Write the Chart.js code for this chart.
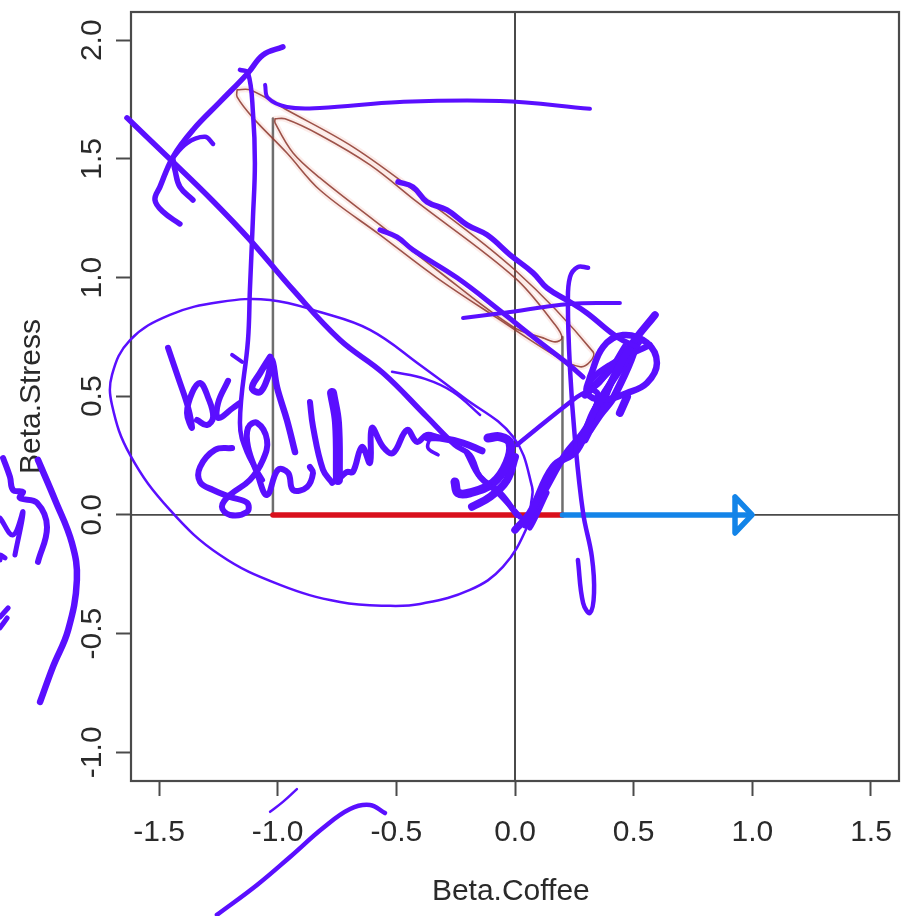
<!DOCTYPE html>
<html><head><meta charset="utf-8">
<style>html,body{margin:0;padding:0;background:#fff}canvas{display:block}</style>
<script src="https://cdn.jsdelivr.net/npm/chart.js@4"></script>
</head><body><canvas id="c" width="909" height="916"></canvas>
<script>
const xTicks=[-1.5,-1,-0.5,0,0.5,1,1.5];
const yTicks=[-1,-0.5,0,0.5,1,1.5,2];
const xRange=[-1.618,1.618];
const yRange=[-1.121,2.119];
const xTitle='Beta.Coffee ', yTitle='Beta.Stress';

const zeroH=[[-1.618,0],[1.618,0]];
const zeroV=[[0,-1.121],[0,2.119]];
const hdiLeft=[[-1.02,0],[-1.02,1.67]];
const hdiRight=[[0.2,0],[0.2,0.75]];
const redSeg=[[-1.02,0],[0.2,0]];
const blueSeg=[[0.2,0],[0.98,0]];
const arrowHead=[[0.927,0.076],[0.999,0],[0.927,-0.076],[0.927,0.076]];
const contourOuter=[[-1.171,1.791],[-1.117,1.791],[-.961,1.706],[-.683,1.551],[-.413,1.357],[0,1.032],[.329,.687],[.316,.645],[.274,.624],[.177,.666],[-.076,.83],[-.329,.999],[-.569,1.18],[-.822,1.369],[-.961,1.525],[-1.104,1.673],[-1.171,1.761],[-1.171,1.791]];
const contourInner=[[-1.011,1.669],[-.969,1.669],[-.822,1.601],[-.611,1.475],[-.413,1.319],[0,.999],[.169,.801],[.198,.746],[.169,.729],[.118,.746],[-.008,.792],[-.329,1.032],[-.569,1.222],[-.822,1.42],[-.935,1.525],[-1.011,1.652],[-1.011,1.669]];

const inkTopLeft=[[-.978,1.972],[-1.062,1.938],[-1.125,1.862],[-1.243,1.74],[-1.357,1.622],[-1.441,1.508],[-1.496,1.382],[-1.517,1.327],[-1.483,1.277],[-1.412,1.226]];
const inkCurlA=[[-1.449,1.496],[-1.382,1.567],[-1.306,1.593],[-1.272,1.563]];
const inkCurlB=[[-1.441,1.496],[-1.433,1.454],[-1.412,1.382],[-1.357,1.327]];
const inkDiagonal=[[-1.635,1.673],[-1.441,1.487],[-1.277,1.327],[-1.117,1.159],[-.935,.948],[-.737,.737],[-.556,.598],[-.371,.413],[-.253,.295],[-.19,.253],[-.147,.16],[-.076,.097],[.021,-.008]];
const inkVertical=[[-1.159,1.875],[-1.125,1.862],[-1.104,1.694],[-1.096,1.483],[-1.104,1.256],[-1.117,.948],[-1.125,.737],[-1.159,.388],[-1.129,.261],[-1.062,.147]];
const inkTopHook=[[-1.053,1.812],[-1.041,1.757],[-.961,1.719],[-.822,1.715],[-.485,1.74],[-.063,1.744],[.316,1.711]];
const inkUpper=[[-.493,1.403],[-.43,1.382],[-.371,1.319],[-.287,1.285],[-.202,1.222],[-.118,1.18],[-.021,1.096],[.076,1.02],[.135,.956],[.232,.897],[.303,.851],[.43,.75],[.514,.708]];
const inkLower=[[-.569,1.201],[-.497,1.171],[-.43,1.117],[-.244,.999],[-.051,.851],[.093,.737],[.219,.64],[.287,.581]];
const inkCross=[[-.219,.83],[-.051,.851],[.232,.889],[.442,.893]];
const inkTall=[[.308,1.041],[.265,1.045],[.232,1.003],[.223,.893],[.232,.611],[.253,.316],[.287,.008],[.324,-.177],[.333,-.329],[.316,-.413],[.287,-.371],[.265,-.19]];
const inkRise=[[.008,.295],[.261,.497],[.358,.556],[.463,.716]];
const inkKnotA=[[0,-.063],[.063,.008],[.16,.202],[.261,.274],[.329,.43],[.388,.527],[.485,.708],[.59,.843]];
const inkKnotB=[[.042,-.042],[.126,.105],[.211,.253],[.295,.358],[.358,.485],[.442,.611],[.527,.737]];
const inkKnotC=[[.241,.253],[.316,.4],[.35,.506],[.308,.548],[.4,.632],[.569,.716]];
const inkLoop=[[.316,.581],[.371,.708],[.455,.758],[.556,.725],[.598,.64],[.556,.556],[.472,.514],[.371,.485],[.303,.514],[.316,.581]];
const inkDrop=[[.442,.43],[.472,.497]];
const inkScribble=[[.295,.506],[.4,.611],[.506,.716],[.421,.506],[.358,.421],[.316,.358]];
const inkScribbleB=[[.295,.316],[.358,.443],[.421,.59],[.485,.675]];
const inkTail=[[-.367,.324],[-.316,.324],[-.219,.303],[-.139,.27]];
const inkTailHook=[[-.324,.253],[-.367,.282],[-.358,.324]];
const inkBlobDown=[[-.202,.261],[-.147,.16],[-.063,.093],[.008,0]];
const inkBlob=[[-.253,.139],[-.24,.093],[-.19,.093],[-.093,.135],[-.034,.219],[-.021,.303],[-.063,.329],[-.114,.324]];
const inkBlobLow=[[-.181,.034],[-.105,.076],[-.034,.147],[0,.244]];
const inkTip=[[0,-.063],[.076,.013],[.063,-.055],[.135,.093]];
const inkEllipse=[[.067,.042],[.051,-.051],[-.051,-.219],[-.19,-.316],[-.4,-.375],[-.527,-.383],[-.737,-.367],[-.99,-.295],[-1.243,-.169],[-1.454,.021],[-1.622,.253],[-1.698,.463],[-1.698,.59],[-1.622,.737],[-1.454,.843],[-1.243,.897],[-1.032,.906],[-.822,.855],[-.611,.78],[-.4,.632],[-.219,.497],[-.008,.329],[.072,.118],[.067,.042]];
const inkEllipseTail=[[-.518,.603],[-.379,.573],[-.261,.518],[-.147,.421]];
const inkLetterB=[[-1.462,.704],[-1.42,.581],[-1.378,.455],[-1.361,.367],[-1.382,.43],[-1.361,.514],[-1.327,.556],[-1.294,.497],[-1.272,.413],[-1.298,.379],[-1.34,.4]];
const inkLetterI=[[-1.209,.565],[-1.251,.472],[-1.251,.409],[-1.188,.451],[-1.159,.472]];
const inkLetterTick=[[-1.192,.674],[-1.15,.645]];
const inkLetterG=[[-1.032,.666],[-1.074,.598],[-1.108,.535],[-1.074,.518],[-1.041,.581],[-1.024,.653],[-1.003,.539],[-.961,.4],[-.927,.265]];
const inkWordShal=[[-1.192,.282],[-1.264,.274],[-1.327,.202],[-1.327,.139],[-1.272,.105],[-1.201,.076],[-1.129,.051],[-1.129,.013],[-1.201,0],[-1.235,.034],[-1.201,.084],[-1.117,.147],[-1.062,.232],[-1.045,.316],[-1.087,.388],[-1.125,.367],[-1.125,.287],[-1.087,.177],[-1.045,.084],[-.999,.19],[-.956,.177],[-.935,.105],[-.876,.118],[-.851,.177],[-.864,.202]];
const inkL1=[[-.864,.476],[-.851,.371],[-.809,.19],[-.77,.135]];
const inkL2=[[-.771,.514],[-.75,.388],[-.746,.147]];
const inkWordRest=[[-.746,.147],[-.708,.181],[-.683,.181],[-.645,.287],[-.611,.219],[-.603,.367],[-.556,.287],[-.514,.261],[-.455,.358],[-.413,.308],[-.371,.337],[-.329,.329]];
const inkLeftArc=[[-2.01,.232],[-1.938,.063],[-1.867,-.118],[-1.846,-.274],[-1.883,-.485],[-1.947,-.64],[-2.001,-.788]];
const inkLeftWave=[[-2.157,.24],[-2.128,.16],[-2.115,.105],[-2.073,.097],[-2.086,.072],[-2.014,.051],[-1.972,-.051],[-2.01,-.198]];
const inkLeftY=[[-2.17,-.013],[-2.115,-.084],[-2.073,.013],[-2.107,-.169]];
const inkLeftDot=[[-2.149,-.181],[-2.17,-.169],[-2.17,-.19]];
const inkLeftDashA=[[-2.136,-.392],[-2.17,-.43]];
const inkLeftDashB=[[-2.14,-.434],[-2.17,-.476]];
const inkBottomThin=[[-.919,-1.155],[-.978,-1.209],[-1.032,-1.251]];
const inkBottomThick=[[-.548,-1.256],[-.611,-1.222],[-.695,-1.239],[-.809,-1.319],[-.948,-1.441],[-1.087,-1.559],[-1.256,-1.685]];

const PURPLE='#5a0fff', DARK='#4a4a4a', GREY='#6e6e6e', RED='#d9101c', BLUE='#1384e8';
const CONTOUR='rgba(140,55,45,0.85)', HALO='rgba(235,120,100,0.14)';

// first entries are painted on top
const layers=[
 [inkTopLeft,PURPLE,5.5],[inkCurlA,PURPLE,4.5],[inkCurlB,PURPLE,5.5],[inkDiagonal,PURPLE,5.5],[inkVertical,PURPLE,4.5],
 [inkTopHook,PURPLE,4],[inkUpper,PURPLE,5.5],[inkLower,PURPLE,5],[inkCross,PURPLE,4],[inkTall,PURPLE,4.5],[inkRise,PURPLE,4.5],
 [inkKnotA,PURPLE,7.5],[inkKnotB,PURPLE,7],[inkKnotC,PURPLE,6],[inkLoop,PURPLE,6.5],[inkDrop,PURPLE,8],[inkScribble,PURPLE,7.5],[inkScribbleB,PURPLE,7],
 [inkTail,PURPLE,7],[inkTailHook,PURPLE,3.5],[inkBlobDown,PURPLE,6],[inkBlob,PURPLE,9],[inkBlobLow,PURPLE,8],[inkTip,PURPLE,5],
 [inkEllipse,PURPLE,2.5],[inkEllipseTail,PURPLE,2.5],
 [inkLetterB,PURPLE,6],[inkLetterI,PURPLE,6],[inkLetterTick,PURPLE,4],[inkLetterG,PURPLE,6.5],[inkWordShal,PURPLE,6],
 [inkL1,PURPLE,6],[inkL2,PURPLE,10],[inkWordRest,PURPLE,6],
 [inkLeftArc,PURPLE,6.5],[inkLeftWave,PURPLE,6],[inkLeftY,PURPLE,5],[inkLeftDot,PURPLE,5],[inkLeftDashA,PURPLE,5],[inkLeftDashB,PURPLE,5],
 [inkBottomThin,PURPLE,2.5],[inkBottomThick,PURPLE,4.5],
 [arrowHead,BLUE,5.5,0],[blueSeg,BLUE,5.5,0],[redSeg,RED,5.5,0],
 [contourOuter,CONTOUR,1.6,0.35],[contourInner,CONTOUR,1.6,0.35],
 [contourOuter,HALO,6,0.35],[contourInner,HALO,6,0.35],
 [hdiLeft,GREY,2.5,0],[hdiRight,GREY,2.5,0],[zeroH,DARK,1.8,0],[zeroV,DARK,2,0]
];

const datasets=layers.map(([pts,color,w,t])=>({
  data:pts.map(([x,y])=>({x,y})),
  showLine:true,borderColor:color,borderWidth:w,pointRadius:0,
  tension:t===undefined?0.4:t,capBezierPoints:false,clip:false,
  borderCapStyle:'round',borderJoinStyle:'round',fill:false
}));

const boxPlugin={id:'box',beforeDatasetsDraw(ch){
  const a=ch.chartArea,g=ch.ctx;g.save();g.strokeStyle=DARK;g.lineWidth=2.2;
  g.strokeRect(a.left,a.top,a.right-a.left,a.bottom-a.top);g.restore();
}};
const font={family:'"Liberation Sans",Arial,sans-serif',size:30};
const fmt=v=>Number(v).toFixed(1);
new Chart(document.getElementById('c'),{
  type:'scatter',data:{datasets},plugins:[boxPlugin],
  options:{responsive:false,animation:false,
    layout:{padding:{top:12,right:10,left:0,bottom:0}},
    plugins:{legend:{display:false},tooltip:{enabled:false}},
    scales:{
      x:{type:'linear',min:xRange[0],max:xRange[1],
        afterBuildTicks:s=>{s.ticks=xTicks.map(value=>({value}))},
        afterFit:s=>{s.height=135;s.paddingLeft=0;s.paddingRight=0},
        border:{display:false},
        grid:{drawOnChartArea:false,drawTicks:true,tickLength:15,tickWidth:2,tickColor:DARK},
        ticks:{autoSkip:false,maxRotation:0,minRotation:0,padding:19,color:'#2a2a2a',font,callback:fmt},
        title:{display:true,text:xTitle,color:'#2a2a2a',font,padding:{top:0,bottom:6}}
      },
      y:{type:'linear',min:yRange[0],max:yRange[1],
        afterBuildTicks:s=>{s.ticks=yTicks.map(value=>({value}))},
        afterFit:s=>{s.width=131;s.paddingTop=0;s.paddingBottom=0},
        border:{display:false},
        grid:{drawOnChartArea:false,drawTicks:true,tickLength:15,tickWidth:2,tickColor:DARK},
        ticks:{autoSkip:false,minRotation:90,maxRotation:90,crossAlign:'center',padding:-3,color:'#2a2a2a',font,callback:fmt},
        title:{display:true,text:yTitle,color:'#2a2a2a',font,padding:{top:14,bottom:0}}
      }
    }
  }
});
</script></body></html>
